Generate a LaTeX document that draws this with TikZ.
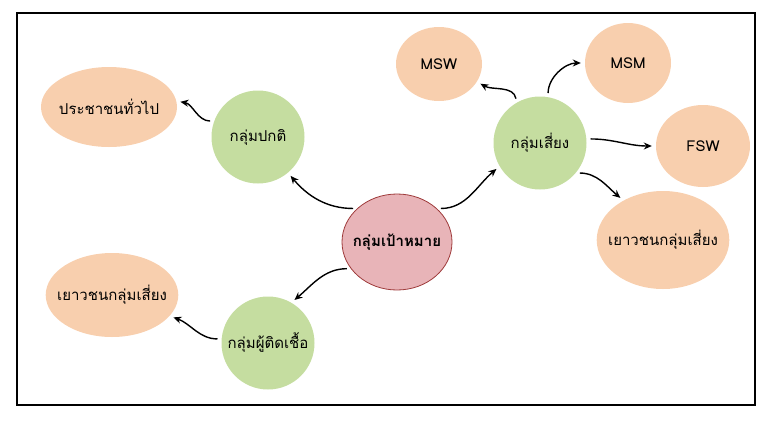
\documentclass[tikz,border=0pt]{standalone}
\usepackage{fontspec}
\setmainfont{Loma}[Script=Thai]
\usetikzlibrary{arrows.meta}
\definecolor{pinkfill}{HTML}{E8B4B8}
\definecolor{pinkline}{HTML}{9E3A3A}
\definecolor{greenfill}{HTML}{C5DDA0}
\definecolor{peachfill}{HTML}{F8CFAE}
\tikzset{
  goal/.style={ellipse, fill=pinkfill, draw=pinkline, thick, minimum width=110pt, minimum height=96pt, inner sep=-6pt, font=\bfseries\fontsize{15}{17}\selectfont},
  grp/.style={circle, fill=greenfill, minimum size=93pt, inner sep=0pt, font=\fontsize{15}{17}\selectfont},
  leaf/.style={ellipse, fill=peachfill, inner sep=-8pt, font=\fontsize{15}{17}\selectfont},
  link/.style={-{Stealth[length=8pt,width=7pt]}, line width=1.4pt, shorten <=4pt, shorten >=4pt},
}
\usetikzlibrary{shapes.geometric}
\begin{document}
\begin{tikzpicture}[x=1pt, y=-1pt]
\useasboundingbox (0,0) rectangle (768,421);
\draw[line width=1.8pt] (17,13) rectangle (755,405);

\node[goal] (target) at (397,242) {กลุ่มเป้าหมาย};
\node[grp] (normal) at (258,137) {กลุ่มปกติ};
\node[grp] (risk) at (540,143) {กลุ่มเสี่ยง};
\node[grp] (infected) at (268,343) {กลุ่มผู้ติดเชื้อ};

\node[leaf, minimum width=136pt, minimum height=80pt] (public) at (109,107) {ประชาชนทั่วไป};
\node[leaf, minimum width=130pt, minimum height=84pt] (youthL) at (112,295) {เยาวชนกลุ่มเสี่ยง};
\node[leaf, minimum width=86pt, minimum height=74pt] (msw) at (439,64) {MSW};
\node[leaf, minimum width=86pt, minimum height=80pt] (msm) at (628,63) {MSM};
\node[leaf, minimum width=94pt, minimum height=82pt] (fsw) at (703,146) {FSW};
\node[leaf, minimum width=130pt, minimum height=98pt] (youthR) at (663,240) {เยาวชนกลุ่มเสี่ยง};

\draw[link] (target.140) to[out=180, in=-50] (normal.-50);
\draw[link] (target.40) to[out=0, in=-140] (risk.-150);
\draw[link] (target.-150) to[out=180, in=40] (infected.60);
\draw[link] (infected.175) to[out=180, in=-20] (youthL.-20);
\draw[link] (normal.160) to[out=180, in=-10] (public.5);
\draw[link] (risk.120) to[out=100, in=-30] (msw.-25);
\draw[link] (risk.80) to[out=90, in=180] (msm.180);
\draw[link] (risk.5) to[out=0, in=180] (fsw.180);
\draw[link] (risk.-40) to[out=0, in=140] (youthR.135);
\end{tikzpicture}
\end{document}
